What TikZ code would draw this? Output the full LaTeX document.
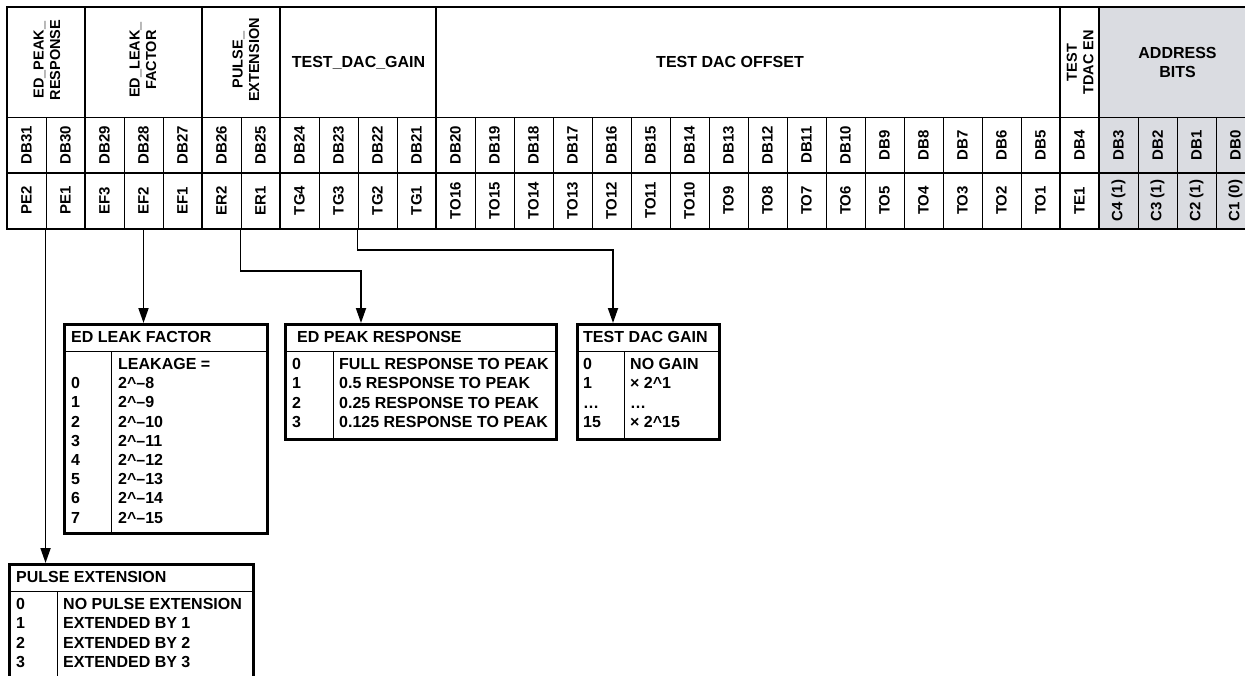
\documentclass[tikz,border=0pt]{standalone}
\usepackage{fontspec}
\setmainfont{Liberation Sans}
\usetikzlibrary{positioning,arrows.meta}
\definecolor{addrgray}{RGB}{218,220,225}

\begin{document}
\begin{tikzpicture}[x=1pt,y=1pt,
  cell/.style={rectangle,draw,line width=0.9pt,minimum width=39pt,minimum height=56pt,inner sep=0pt,font=\fontsize{15}{17}\selectfont\bfseries},
  head/.style={rectangle,draw,line width=1.1pt,minimum height=110pt,anchor=north west,inner sep=0pt},
  htxt/.style={font=\fontsize{16}{19}\selectfont\bfseries,align=center,inner sep=0pt},
  vtxt/.style={rotate=90,font=\fontsize{14.5}{16.5}\selectfont\bfseries,align=center,inner sep=0pt},
  rule/.style={line width=2.8pt},
  thinrule/.style={line width=1pt},
  infobox/.style={rectangle,draw,line width=2.6pt,anchor=north west,inner sep=0pt},
  boxtxt/.style={anchor=west,inner sep=0pt,text height=11.5pt,text depth=0pt,font=\fontsize{16}{19}\selectfont\bfseries},
  conn/.style={line width=1.8pt,-{Triangle[length=15pt,width=10pt]}}]
  \useasboundingbox (0,0) rectangle (1245,-675);
  \clip (0,0) rectangle (1245,-675);
  \fill[addrgray] (1099,-7) rectangle (1255,-229);
  \node[head,minimum width=78pt] (hpeak) at (7,-7) {};
  \node[head,minimum width=117pt] (hleak) at (85,-7) {};
  \node[head,minimum width=78pt] (hpulse) at (202,-7) {};
  \node[head,minimum width=156pt] (hgain) at (280,-7) {};
  \node[head,minimum width=624pt] (hoffset) at (436,-7) {};
  \node[head,minimum width=39pt] (htdac) at (1060,-7) {};
  \node[head,minimum width=156pt] (haddr) at (1099,-7) {};
  \node[vtxt] (tpeak) at (47,-60) {ED\_PEAK\_\\RESPONSE};
  \node[vtxt] (tleak) at (143,-60) {ED\_LEAK\_\\FACTOR};
  \node[vtxt] (tpulse) at (246,-60) {PULSE\_\\EXTENSION};
  \node[htxt] (tgain) at (hgain) {TEST\_DAC\_GAIN};
  \node[htxt] (toffset) at (730,-62) {TEST DAC OFFSET};
  \node[vtxt] (ttdac) at (htdac) {TEST\\TDAC EN};
  \node[htxt] (taddr) at (haddr) {ADDRESS\\BITS};
  \foreach \nm [count=\i from 0] in {PE2,PE1,EF3,EF2,EF1,ER2,ER1,TG4,TG3,TG2,TG1,
      TO16,TO15,TO14,TO13,TO12,TO11,TO10,TO9,TO8,TO7,TO6,TO5,TO4,TO3,TO2,TO1,
      TE1,{C4 (1)},{C3 (1)},{C2 (1)},{C1 (0)}}{
    \pgfmathtruncatemacro\db{31-\i}
    \node[cell] (b\db) at ({26.5+39*\i},-145) {\rotatebox{90}{DB\db}};
    \node[cell] (n\db) at ({26.5+39*\i},-200.5) {\rotatebox{90}{\nm}};
  }
  \draw[rule] (7,-7) rectangle (1255,-229);
  \foreach \x in {85,202,280,436,1060,1099} \draw[rule] (\x,-7) -- (\x,-229);

  \node[infobox,minimum width=203pt,minimum height=209pt] (leakbox) at (63,-323) {};
  \draw[thinrule] (63,-351) -- (266,-351) (111,-351) -- (111,-532);
  \node[boxtxt] (leaktitle) at (71,-337) {ED LEAK FACTOR};
  \node[boxtxt] (leakhead) at (118,-364) {LEAKAGE =};
  \foreach \k in {0,...,7}{
    \pgfmathtruncatemacro\e{\k+8}
    \node[boxtxt] (leakn\k) at (71,{-383-19.2*\k}) {\k};
    \node[boxtxt] (leakv\k) at (118,{-383-19.2*\k}) {2\textasciicircum\textendash\e};
  }

  \node[infobox,minimum width=271pt,minimum height=115pt] (peakbox) at (284,-323) {};
  \draw[thinrule] (284,-351) -- (555,-351) (333,-351) -- (333,-438);
  \node[boxtxt] (peaktitle) at (297,-337) {ED PEAK RESPONSE};
  \foreach \k/\v in {0/FULL RESPONSE TO PEAK,1/0.5 RESPONSE TO PEAK,2/0.25 RESPONSE TO PEAK,3/0.125 RESPONSE TO PEAK}{
    \node[boxtxt] (peakn\k) at (292,{-364-19.2*\k}) {\k};
    \node[boxtxt] (peakv\k) at (339,{-364-19.2*\k}) {\v};
  }

  \node[infobox,minimum width=142pt,minimum height=115pt] (gainbox) at (576,-323) {};
  \draw[thinrule] (576,-351) -- (718,-351) (624,-351) -- (624,-438);
  \node[boxtxt] (gaintitle) at (583,-337) {TEST DAC GAIN};
  \foreach \k/\n/\v in {0/0/NO GAIN,1/1/{× 2\textasciicircum1},2/\ldots/\ldots,3/15/{× 2\textasciicircum15}}{
    \node[boxtxt] (gainn\k) at (583,{-364-19.2*\k}) {\n};
    \node[boxtxt] (gainv\k) at (630,{-364-19.2*\k}) {\v};
  }

  \node[infobox,minimum width=244pt,minimum height=130pt] (pulsebox) at (8,-563) {};
  \draw[thinrule] (8,-591) -- (252,-591) (57,-591) -- (57,-693);
  \node[boxtxt] (pulsetitle) at (16,-577) {PULSE EXTENSION};
  \foreach \k/\v in {0/NO PULSE EXTENSION,1/EXTENDED BY 1,2/EXTENDED BY 2,3/EXTENDED BY 3}{
    \node[boxtxt] (pulsen\k) at (16,{-604-19.2*\k}) {\k};
    \node[boxtxt] (pulsev\k) at (63,{-604-19.2*\k}) {\v};
  }

  \draw[conn] (n30.south west) -- (n30.south west |- pulsebox.north);
  \draw[conn] (n28.south) -- (n28.south |- leakbox.north);
  \draw[conn] (n25.south west) -- ++(0,-42) -| ([xshift=77pt]peakbox.north west);
  \draw[conn] (n22.south west) -- ++(0,-21) -| ([xshift=37pt]gainbox.north west);
\end{tikzpicture}
\end{document}
